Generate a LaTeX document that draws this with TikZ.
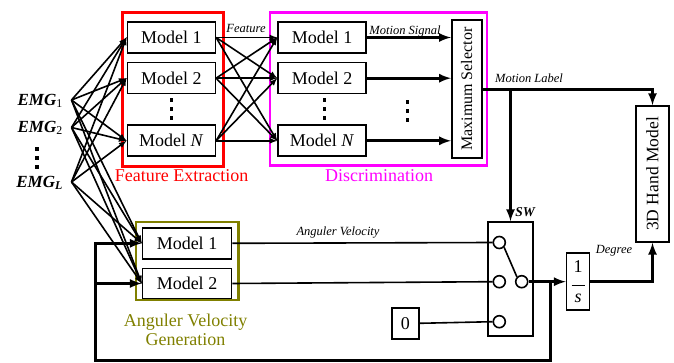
\documentclass[tikz,border=0pt]{standalone}
\usepackage{fontspec}
\setmainfont{Liberation Serif}
\usetikzlibrary{arrows,calc,positioning}
\definecolor{avgolive}{RGB}{128,128,0}
\definecolor{discmag}{RGB}{255,0,255}
\definecolor{fered}{RGB}{255,0,0}
\newcommand{\bdots}{\vbox{\baselineskip=9pt\lineskiplimit=0pt
  \hbox{\rule{3.5pt}{3.5pt}}\hbox{\rule{3.5pt}{3.5pt}}\hbox{\rule{3.5pt}{3.5pt}}}}
\tikzset{
  model/.style={draw, line width=1.6pt, minimum width=88pt, minimum height=31pt, inner sep=0pt, font=\fontsize{18}{20}\selectfont},
  block/.style={draw, line width=1.6pt, inner sep=0pt, font=\fontsize{17}{19}\selectfont},
  port/.style={circle, draw, line width=1.6pt, minimum size=12pt, inner sep=0pt},
  link/.style={line width=1.6pt, -latex},
  wire/.style={line width=1.6pt},
  bus/.style={line width=3pt, -latex},
  frame/.style={line width=2.4pt},
  sig/.style={font=\fontsize{12.5}{14}\selectfont\itshape, inner sep=1pt},
  caption/.style={font=\fontsize{18}{20}\selectfont, inner sep=0pt, align=center},
  emg/.style={font=\fontsize{17}{19}\selectfont\bfseries\itshape, anchor=east, inner sep=0pt},
  dots/.style={inner sep=0pt}
}
\begin{document}
\begin{tikzpicture}[x=1pt,y=-1pt]
\useasboundingbox (0,0) rectangle (674,363);

% inputs
\node[emg] (emg1) at (63,101) {EMG\textsubscript{\upshape\mdseries 1}};
\node[emg] (emg2) at (63,128) {EMG\textsubscript{\upshape\mdseries 2}};
\node[dots] (emgdots) at (37,158) {\bdots};
\node[emg] (emgL) at (63,183) {EMG\textsubscript{\textit{L}}};
\coordinate (e1) at (71.5,100);
\coordinate (e2) at (71.5,127.5);
\coordinate (eL) at (71.5,182);

% feature extraction
\draw[fered, frame] (122.5,12.5) rectangle (223.5,166.5);
\node[model] (fe1) at (171.3,37.5) {Model 1};
\node[model] (fe2) at (171.3,78.2) {Model 2};
\node[dots] (fedots) at (171.7,109) {\bdots};
\node[model] (feN) at (171.3,140.8) {Model \textit{N}};
\node[caption, text=fered] (fecap) at (181.7,176) {Feature Extraction};

% discrimination
\draw[discmag, frame] (270,12.5) rectangle (486.7,165.7);
\node[model] (dm1) at (322,37.5) {Model 1};
\node[model] (dm2) at (322,78.2) {Model 2};
\node[dots] (dmdots) at (324.3,109) {\bdots};
\node[model] (dmN) at (322,140.8) {Model \textit{N}};
\node[dots] (sigdots) at (407.7,111) {\bdots};
\node[block, minimum width=30pt, minimum height=138pt] (sel) at (466.7,89.2) {};
\node[rotate=90, inner sep=0pt, font=\fontsize{16}{18}\selectfont] (seltext) at (sel.center) {Maximum Selector};
\node[caption, text=discmag] (dmcap) at (379,176) {Discrimination};

% angular velocity generation
\draw[avgolive, frame] (136,222.3) rectangle (238.3,300);
\node[model, minimum width=89pt] (av1) at (187,243.3) {Model 1};
\node[model, minimum width=89pt, minimum height=30pt] (av2) at (187,283.5) {Model 2};
\node[caption, text=avgolive] (avcap) at (185.5,330) {Anguler Velocity\\[-1pt]Generation};

% switch, integrator, hand model
\node[block, minimum width=45pt, minimum height=114pt] (sw) at (510.5,279) {};
\node[port] (c1) at (499.3,242.5) {};
\node[port] (c2) at (499.3,281.7) {};
\node[port] (c3) at (499.3,321.7) {};
\node[port] (co) at (521.7,281.7) {};
\node[block, minimum width=27pt, minimum height=31pt, font=\fontsize{18}{20}\selectfont] (zero) at (405.3,323.3) {0};
\node[block, minimum width=23pt, minimum height=57pt, align=center, font=\fontsize{18}{20}\selectfont] (inv) at (578,281.7) {1\\[-7pt]\rule{13pt}{1pt}\\[-3pt]\textit{s}};
\node[block, minimum width=33pt, minimum height=136pt] (hand) at (652.5,174) {};
\node[rotate=90, inner sep=0pt, font=\fontsize{17.5}{19}\selectfont] (handtext) at (hand.center) {3D Hand Model};

% labels
\node[sig] (lfeat) at (246,28) {Feature};
\node[sig] (lms) at (405,31) {Motion Signal};
\node[sig] (lml) at (529,78) {Motion Label};
\node[sig, font=\fontsize{13.5}{15}\selectfont\bfseries\itshape] (lsw) at (525,212) {SW};
\node[sig] (ldeg) at (614,251) {Degree};
\node[sig] (lav) at (338,233) {Anguler Velocity};

% EMG fan-out
\foreach \s in {e1,e2,eL}
  \foreach \t in {fe1,fe2,feN,av1,av2}
    \draw[link] (\s) -- (\t.west);

% features to discrimination
\foreach \s in {fe1,fe2,feN}
  \foreach \t in {dm1,dm2,dmN}
    \draw[link] (\s.east) -- (\t.west);

% motion signals
\foreach \t in {dm1,dm2,dmN}
  \draw[bus] (\t.east) -- (\t.east -| sel.west);

% motion label
\draw[bus] (sel.east) -| (hand.north);
\draw[bus] (sel.east -| sw.north) -- (sw.north);

% switch
\draw[wire] (av1.east) -- (c1.west);
\draw[wire] (av2.east) -- (c2.west);
\draw[wire] (zero.east) -- (c3.west);
\draw[wire] (c1.south east) -- (co.north west);
\draw[bus] (co.east) -- (inv.west);
\draw[bus] (inv.east) -| (hand.south);

% feedback
\coordinate (fb) at (550.5,281.7);
\coordinate (fbcorner) at (95,360.5);
\draw[bus] (fb) |- (fbcorner) |- (av1.west);
\draw[bus] (fbcorner |- av2.west) -- (av2.west);
\end{tikzpicture}
\end{document}
